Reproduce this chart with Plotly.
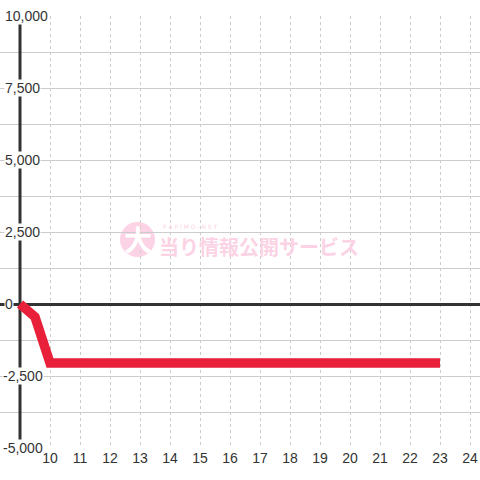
import plotly.graph_objects as go

# hours of the day and the running total
hours = [9, 9.5, 10, 11, 12, 13, 14, 15, 16, 17, 18, 19, 20, 21, 22, 23]
totals = [0, -450, -2050, -2050, -2050, -2050, -2050, -2050, -2050, -2050,
          -2050, -2050, -2050, -2050, -2050, -2050]

x_ticks = list(range(10, 25))
y_labels = [10000, 7500, 5000, 2500, 0, -2500, -5000]

W, H = 480, 480
FONT = 'Liberation Sans, Arial, sans-serif'
PINK = '#fbd3e5'

fig = go.Figure()

fig.add_trace(go.Scatter(x=hours, y=totals, mode='lines',
                         line=dict(color='#e8203a', width=9.5),
                         hoverinfo='skip', showlegend=False))

# dark vertical axis line at the first hour
fig.add_shape(type='line', xref='x', yref='y', x0=9, x1=9, y0=-5000, y1=10000,
              line=dict(color='#333333', width=3), layer='between')

# y labels drawn on white boxes over the grid
for v in y_labels:
    fig.add_annotation(x=0, xref='paper', y=v, yref='y', text=f'{v:,}',
                       xanchor='left', yanchor='middle', showarrow=False,
                       xshift=4 if v >= 0 else 2,
                       bgcolor='white', borderpad=0,
                       font=dict(family=FONT, size=14, color='#333333'))

# watermark
fig.add_shape(type='circle', xref='paper', yref='paper',
              x0=120 / W, x1=155 / W, y0=1 - (257 - 16) / 432, y1=1 - (222 - 16) / 432,
              fillcolor=PINK, line=dict(width=0), layer='between')
fig.add_annotation(x=138 / W, y=1 - (239 - 16) / 432, xref='paper', yref='paper',
                   text='<b>大</b>', showarrow=False, xanchor='center', yanchor='middle',
                   font=dict(family='Noto Sans CJK JP', size=28, color='#ffffff'))
fig.add_annotation(x=161 / W, y=1 - (226 - 16) / 432, xref='paper', yref='paper',
                   text='P A P I M O - N E T', xanchor='left', showarrow=False,
                   font=dict(family='DejaVu Sans', size=6, color=PINK))
fig.add_annotation(x=157 / W, y=1 - (246 - 16) / 432, xref='paper', yref='paper',
                   text='<b>当り情報公開サービス</b>', xanchor='left', showarrow=False,
                   font=dict(family='Noto Sans CJK JP', size=20, color=PINK))

fig.update_xaxes(range=[9 - 20 / 30, 24 + 10 / 30], tickvals=x_ticks,
                 showgrid=True, gridcolor='#cccccc', griddash='dot', gridwidth=1,
                 zeroline=False, showline=False, ticks='', automargin=False,
                 tickfont=dict(family=FONT, size=14, color='#333333'))
fig.update_yaxes(range=[-5000, 10000], dtick=1250, showticklabels=False,
                 showgrid=True, gridcolor='#cccccc', gridwidth=1,
                 zeroline=True, zerolinecolor='#333333', zerolinewidth=3,
                 showline=False, ticks='', automargin=False)
fig.update_layout(width=W, height=H,
                  margin=dict(l=0, r=0, t=16, b=32, autoexpand=False),
                  paper_bgcolor='white', plot_bgcolor='white', showlegend=False)

# page body has an 8px default margin; drop it so the chart fills the window
fig.write_html('out.html', config={'displayModeBar': False},
               post_script="document.body.style.margin='0';")
